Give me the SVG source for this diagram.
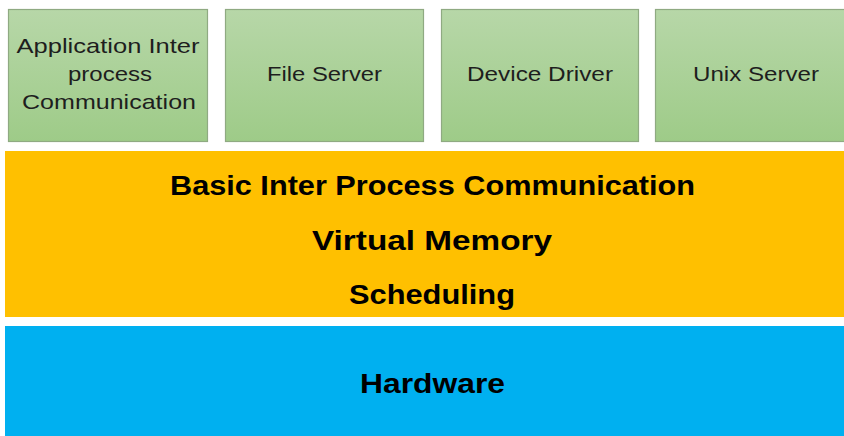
<svg xmlns="http://www.w3.org/2000/svg" width="844" height="436" viewBox="0 0 844 436">
<defs>
<linearGradient id="g" x1="0" y1="0" x2="0" y2="1">
<stop offset="0" stop-color="#b7d7a8"/>
<stop offset="1" stop-color="#9ecb88"/>
</linearGradient>
<style>
.box{fill:url(#g);stroke:#8faa82;stroke-width:1.2}
.t{font-family:"Liberation Sans",Arial,sans-serif;font-size:21px;fill:#1e1e1e;text-anchor:middle}
.b{font-family:"Liberation Sans",Arial,sans-serif;font-size:28px;font-weight:bold;fill:#000;text-anchor:middle}
</style>
</defs>
<rect width="844" height="436" fill="#fff"/>
<g id="app-ipc">
<rect class="box" x="8.5" y="9.5" width="199" height="132"/>
<text class="t" x="108" y="53" textLength="183" lengthAdjust="spacingAndGlyphs">Application Inter</text>
<text class="t" x="110" y="81" textLength="84" lengthAdjust="spacingAndGlyphs">process</text>
<text class="t" x="109" y="109" textLength="174" lengthAdjust="spacingAndGlyphs">Communication</text>
</g>
<g id="file-server">
<rect class="box" x="225.5" y="9.5" width="198" height="132"/>
<text class="t" x="324.5" y="81" textLength="115" lengthAdjust="spacingAndGlyphs">File Server</text>
</g>
<g id="device-driver">
<rect class="box" x="441.5" y="9.5" width="197" height="132"/>
<text class="t" x="540" y="81" textLength="146" lengthAdjust="spacingAndGlyphs">Device Driver</text>
</g>
<g id="unix-server">
<rect class="box" x="655.5" y="9.5" width="200" height="132"/>
<text class="t" x="756" y="81" textLength="126" lengthAdjust="spacingAndGlyphs">Unix Server</text>
</g>
<g id="kernel">
<rect x="5" y="151" width="845" height="166" fill="#ffc000"/>
<text class="b" x="432.5" y="195" textLength="525" lengthAdjust="spacingAndGlyphs">Basic Inter Process Communication</text>
<text class="b" x="432" y="250" textLength="240" lengthAdjust="spacingAndGlyphs">Virtual Memory</text>
<text class="b" x="432" y="304" textLength="166" lengthAdjust="spacingAndGlyphs">Scheduling</text>
</g>
<g id="hardware">
<rect x="5" y="326" width="845" height="115" fill="#00b0f0"/>
<text class="b" x="432.5" y="393" textLength="145" lengthAdjust="spacingAndGlyphs">Hardware</text>
</g>
<g id="connectors"/>
</svg>
